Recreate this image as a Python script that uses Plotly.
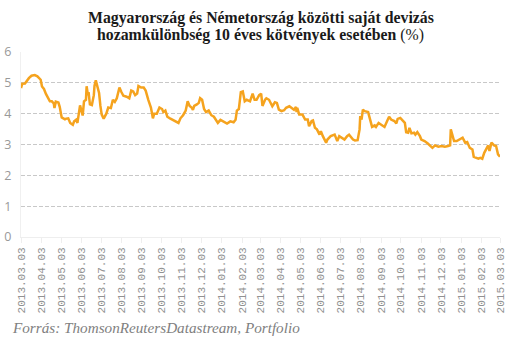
import plotly.graph_objects as go

# Daily-ish spread observations (percentage points)
dates = [
    "2013-03-03", "2013-03-05", "2013-03-09", "2013-03-11", "2013-03-15", "2013-03-19",
    "2013-03-24", "2013-03-28", "2013-03-31", "2013-04-02", "2013-04-04", "2013-04-07",
    "2013-04-10", "2013-04-13", "2013-04-16", "2013-04-19", "2013-04-22", "2013-04-23",
    "2013-04-25", "2013-04-29", "2013-05-01", "2013-05-04", "2013-05-06", "2013-05-09",
    "2013-05-11", "2013-05-14", "2013-05-17", "2013-05-21", "2013-05-23", "2013-05-26",
    "2013-05-28", "2013-06-01", "2013-06-05", "2013-06-07", "2013-06-10", "2013-06-11",
    "2013-06-13", "2013-06-14", "2013-06-16", "2013-06-19", "2013-06-22", "2013-06-23",
    "2013-06-25", "2013-06-28", "2013-06-30", "2013-07-02", "2013-07-04", "2013-07-07",
    "2013-07-11", "2013-07-14", "2013-07-18", "2013-07-21", "2013-07-24", "2013-07-27",
    "2013-07-31", "2013-08-03", "2013-08-06", "2013-08-11", "2013-08-15", "2013-08-18",
    "2013-08-21", "2013-08-24", "2013-08-27", "2013-08-29", "2013-09-02", "2013-09-06",
    "2013-09-09", "2013-09-13", "2013-09-17", "2013-09-20", "2013-09-22", "2013-09-26",
    "2013-09-30", "2013-10-04", "2013-10-06", "2013-10-09", "2013-10-12", "2013-10-16",
    "2013-10-21", "2013-10-26", "2013-10-29", "2013-11-01", "2013-11-05", "2013-11-09",
    "2013-11-12", "2013-11-15", "2013-11-18", "2013-11-20", "2013-11-22", "2013-11-26",
    "2013-11-29", "2013-12-01", "2013-12-04", "2013-12-07", "2013-12-10", "2013-12-14",
    "2013-12-18", "2013-12-22", "2013-12-25", "2013-12-28", "2014-01-01", "2014-01-06",
    "2014-01-11", "2014-01-16", "2014-01-21", "2014-01-24", "2014-01-26", "2014-01-29",
    "2014-02-01", "2014-02-04", "2014-02-07", "2014-02-10", "2014-02-15", "2014-02-19",
    "2014-02-22", "2014-02-25", "2014-03-01", "2014-03-04", "2014-03-06", "2014-03-10",
    "2014-03-12", "2014-03-16", "2014-03-21", "2014-03-25", "2014-03-28", "2014-03-31",
    "2014-04-04", "2014-04-08", "2014-04-11", "2014-04-16", "2014-04-19", "2014-04-23",
    "2014-04-26", "2014-04-27", "2014-04-28", "2014-05-01", "2014-05-06", "2014-05-10",
    "2014-05-14", "2014-05-16", "2014-05-20", "2014-05-22", "2014-05-25", "2014-05-28",
    "2014-06-01", "2014-06-03", "2014-06-06", "2014-06-09", "2014-06-11", "2014-06-13",
    "2014-06-18", "2014-06-24", "2014-06-28", "2014-07-01", "2014-07-04", "2014-07-09",
    "2014-07-13", "2014-07-16", "2014-07-22", "2014-07-25", "2014-07-29", "2014-08-01",
    "2014-08-02", "2014-08-04", "2014-08-06", "2014-08-09", "2014-08-14", "2014-08-17",
    "2014-08-20", "2014-08-24", "2014-08-26", "2014-08-30", "2014-09-03", "2014-09-08",
    "2014-09-12", "2014-09-15", "2014-09-18", "2014-09-23", "2014-09-26", "2014-09-28",
    "2014-10-02", "2014-10-06", "2014-10-09", "2014-10-11", "2014-10-14", "2014-10-16",
    "2014-10-19", "2014-10-23", "2014-10-25", "2014-10-28", "2014-11-01", "2014-11-03",
    "2014-11-08", "2014-11-13", "2014-11-17", "2014-11-20", "2014-11-24", "2014-11-29",
    "2014-12-04", "2014-12-09", "2014-12-14", "2014-12-17", "2014-12-18", "2014-12-21",
    "2014-12-23", "2014-12-27", "2015-01-01", "2015-01-05", "2015-01-09", "2015-01-12",
    "2015-01-16", "2015-01-20", "2015-01-22", "2015-01-26", "2015-01-29", "2015-02-01",
    "2015-02-04", "2015-02-07", "2015-02-11", "2015-02-13", "2015-02-15", "2015-02-18",
    "2015-02-22", "2015-02-25", "2015-02-28", "2015-03-03",
]

spread = [
    4.83, 4.97, 4.98, 5.04, 5.15, 5.23,
    5.25, 5.21, 5.12, 5.10, 4.88, 4.80,
    4.64, 4.50, 4.40, 4.40, 4.33, 4.18,
    4.39, 4.36, 4.22, 3.88, 3.85, 3.82,
    3.84, 3.85, 3.70, 3.64, 3.75, 3.80,
    3.70, 4.27, 3.94, 4.40, 4.45, 4.89,
    4.60, 4.70, 4.30, 4.28, 4.60, 4.90,
    5.08, 4.80, 4.67, 4.25, 3.97, 3.84,
    4.00, 4.20, 4.18, 4.45, 4.38, 4.50,
    4.85, 4.70, 4.58, 4.55, 4.50, 4.75,
    4.72, 4.60, 4.65, 4.90, 4.85, 4.85,
    4.75, 4.45, 4.20, 3.85, 4.00, 4.00,
    4.20, 4.15, 4.05, 4.10, 3.90, 3.85,
    3.80, 3.75, 3.70, 3.85, 3.95, 4.10,
    4.40, 4.25, 4.20, 4.12, 4.25, 4.30,
    4.35, 4.50, 4.45, 4.15, 4.05, 4.10,
    3.95, 3.90, 3.80, 3.70, 3.80, 3.75,
    3.68, 3.75, 3.72, 3.80, 4.10, 4.15,
    4.70, 4.72, 4.40, 4.45, 4.40, 4.65,
    4.45, 4.45, 4.60, 4.65, 4.25, 4.45,
    4.50, 4.45, 4.24, 4.37, 4.35, 4.13,
    4.08, 4.11, 4.19, 4.24, 4.19, 4.13,
    4.22, 4.05, 4.19, 3.97, 3.97, 3.81,
    3.81, 3.59, 3.76, 3.78, 3.54, 3.49,
    3.32, 3.43, 3.27, 3.11, 3.06, 3.16,
    3.27, 3.32, 3.11, 3.27, 3.22, 3.16,
    3.27, 3.32, 3.16, 3.13, 3.14, 3.49,
    3.92, 3.81, 4.13, 4.08, 4.05, 3.81,
    3.57, 3.62, 3.57, 3.70, 3.65, 3.57,
    3.76, 3.90, 3.81, 3.76, 3.68, 3.83,
    3.86, 3.76, 3.70, 3.40, 3.38, 3.54,
    3.36, 3.38, 3.32, 3.40, 3.27, 3.16,
    3.11, 3.03, 2.95, 2.89, 2.97, 2.93,
    2.95, 2.93, 2.95, 2.97, 3.49, 3.27,
    3.11, 3.11, 3.18, 3.22, 3.06, 3.08,
    2.89, 2.84, 2.60, 2.57, 2.54, 2.57,
    2.54, 2.73, 2.89, 2.97, 2.79, 3.06,
    2.97, 2.95, 2.68, 2.60,
]

tick_dates = [
    "2013-03-03", "2013-04-03", "2013-05-03", "2013-06-03", "2013-07-03",
    "2013-08-03", "2013-09-03", "2013-10-03", "2013-11-03", "2013-12-03",
    "2014-01-03", "2014-02-03", "2014-03-03", "2014-04-03", "2014-05-03",
    "2014-06-03", "2014-07-03", "2014-08-03", "2014-09-03", "2014-10-03",
    "2014-11-03", "2014-12-03", "2015-01-03", "2015-02-03", "2015-03-03",
]
tick_labels = [d.replace("-", ".") for d in tick_dates]

y_ticks = [0, 1, 2, 3, 4, 5, 6]

title_lines = [
    "Magyarország és Németország közötti saját devizás",
    "hozamkülönbség 10 éves kötvények esetében",
]
source_text = "Forrás: ThomsonReutersDatastream, Portfolio"

fig = go.Figure()
fig.add_trace(go.Scatter(
    x=dates, y=spread, mode="lines",
    line=dict(color="#F5A31E", width=2.5),
    hoverinfo="skip",
))

fig.update_layout(
    width=529, height=341,
    margin=dict(l=21, r=29, t=52, b=104),
    paper_bgcolor="white", plot_bgcolor="white",
    showlegend=False,
    xaxis=dict(
        type="date",
        range=["2013-03-03", "2015-03-03"],
        tickvals=tick_dates, ticktext=tick_labels,
        tickangle=-90,
        tickfont=dict(family="Liberation Mono", size=11, color="#919191"),
        showgrid=False, zeroline=False,
        showline=True, linecolor="#eeeeee", linewidth=1,
        ticks="outside", ticklen=5, tickcolor="#eeeeee",
        automargin=False,
    ),
    yaxis=dict(
        range=[0, 6], tickvals=y_ticks,
        tickfont=dict(family="Open Sans", size=12.5, color="#999999"),
        showgrid=True, gridcolor="#c8c8c8", griddash="4px,2px", gridwidth=1,
        zeroline=False,
        showline=True, linecolor="#f0f0f0", linewidth=1,
        ticks="", ticklabelstandoff=6,
        automargin=False,
    ),
    annotations=[
        dict(
            text="<b>" + title_lines[0] + "</b>",
            xref="paper", yref="paper", x=0.5, y=1.184,
            xanchor="center", yanchor="middle", showarrow=False,
            font=dict(family="Liberation Serif", size=15.8, color="#1a1a1a"),
        ),
        dict(
            text="<b>" + title_lines[1] + "</b> (%)",
            xref="paper", yref="paper", x=0.5, y=1.092,
            xanchor="center", yanchor="middle", showarrow=False,
            font=dict(family="Liberation Serif", size=15.8, color="#1a1a1a"),
        ),
        dict(
            text="<i>" + source_text + "</i>",
            xref="paper", yref="paper", x=-0.023, y=-0.49,
            xanchor="left", yanchor="middle", showarrow=False,
            font=dict(family="Liberation Serif", size=15.2, color="#808080"),
        ),
    ],
)

fig.write_html("out.html")
